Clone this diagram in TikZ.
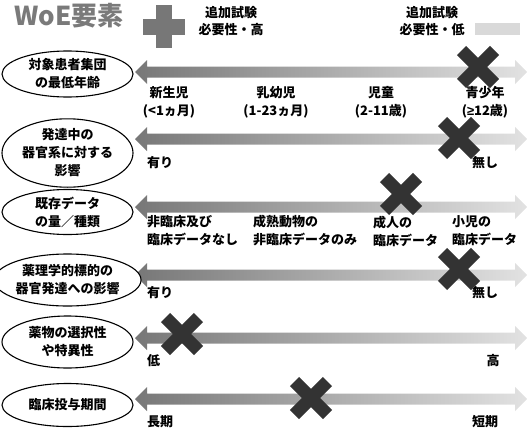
\documentclass[tikz,border=0pt]{standalone}
\usepackage{fontspec}
\setmainfont{Noto Sans CJK JP}
\newfontfamily\latinsym{Liberation Sans}
\usetikzlibrary{shapes.geometric}
\definecolor{xdark}{HTML}{333333}
\definecolor{plusgray}{HTML}{777777}
\definecolor{titlegray}{HTML}{7A7A7A}
\definecolor{lightbox}{HTML}{D9D9D9}
\definecolor{agL}{HTML}{777777}
\definecolor{agR}{HTML}{E2E2E2}
\newcommand\jpfont{\bfseries\fontsize{13}{18}\selectfont}
\newcommand\dblarrow[1]{%
  \shade[left color=agL, right color=agR]
    (135,#1) -- (147,#1-12) -- (147,#1-5.5) -- (515,#1-5.5) -- (515,#1-12)
    -- (527,#1) -- (515,#1+12) -- (515,#1+5.5) -- (147,#1+5.5) -- (147,#1+12) -- cycle;}
\newcommand\bigcross[1]{%
  \draw[xdark, line width=13pt, shift={(#1)}]
    (-16.5,-16.5) -- (16.5,16.5) (-16.5,16.5) -- (16.5,-16.5);}
\tikzset{
  oval/.style={ellipse, draw=black, line width=1.1pt, fill=white,
    minimum width=131pt, inner sep=0pt, align=center, font=\jpfont},
  lab/.style={inner sep=0pt, font=\jpfont},
  labw/.style={lab, anchor=west, align=left},
  hdr/.style={inner sep=0pt, align=center, font=\bfseries\fontsize{13}{17}\selectfont},
}
\begin{document}
\begin{tikzpicture}[x=1pt,y=-1pt]
\useasboundingbox (0,0) rectangle (529,431);

% header
\node[anchor=west, inner sep=0pt, text=titlegray,
  font=\bfseries\fontsize{26}{26}\selectfont] (title) at (14,16) {WoE要素};
\fill[plusgray] (143,19) rectangle (185,35);
\fill[plusgray] (156,5) rectangle (172,48);
\node[hdr] (h1) at (231,21) {追加試験\\必要性・高};
\node[hdr] (h2) at (432,21) {追加試験\\必要性・低};
\fill[lightbox] (475,23) rectangle (520,35);

% arrows
\dblarrow{72}
\dblarrow{139}
\dblarrow{207}
\dblarrow{275}
\dblarrow{338}
\dblarrow{399}

% ellipses
\node[oval, minimum height=46pt] (e1) at (67.5,74) {対象患者集団\\の最低年齢};
\node[oval, minimum height=56pt] (e2) at (67.5,153) {発達中の\\器官系に対する\\影響};
\node[oval, minimum height=45pt] (e3) at (67.5,212) {既存データ\\の量／種類};
\node[oval, minimum height=52pt] (e4) at (67.5,280) {薬理学的標的の\\器官発達への影響};
\node[oval, minimum height=52pt] (e5) at (67.5,342) {薬物の選択性\\や特異性};
\node[oval, minimum height=43pt] (e6) at (67.5,405) {臨床投与期間};

% row 1 labels
\node[lab, align=center] (l1a) at (169,102) {新生児\\(<1ヵ月)};
\node[lab, align=center] (l1b) at (276,102) {乳幼児\\(1-23ヵ月)};
\node[lab, align=center] (l1c) at (381,102) {児童\\(2-11歳)};
\node[lab, align=center] (l1d) at (485,102) {青少年\\({\latinsym ≥}12歳)};
% row 2
\node[labw] (l2a) at (147,163) {有り};
\node[lab] (l2b) at (485,163) {無し};
% row 3
\node[labw] (l3a) at (147,231) {非臨床及び\\臨床データなし};
\node[labw] (l3b) at (253,231) {成熟動物の\\非臨床データのみ};
\node[labw] (l3c) at (373,231) {成人の\\臨床データ};
\node[labw] (l3d) at (452,231) {小児の\\臨床データ};
% row 4
\node[labw] (l4a) at (147,293) {有り};
\node[lab] (l4b) at (485,293) {無し};
% row 5
\node[labw] (l5a) at (147,361) {低};
\node[lab] (l5b) at (493,361) {高};
% row 6
\node[labw] (l6a) at (147,422) {長期};
\node[lab] (l6b) at (485,422) {短期};

% crosses
\bigcross{478,67}
\bigcross{459,138}
\bigcross{401,194}
\bigcross{459,269}
\bigcross{182,334}
\bigcross{311,398}
\end{tikzpicture}
\end{document}
